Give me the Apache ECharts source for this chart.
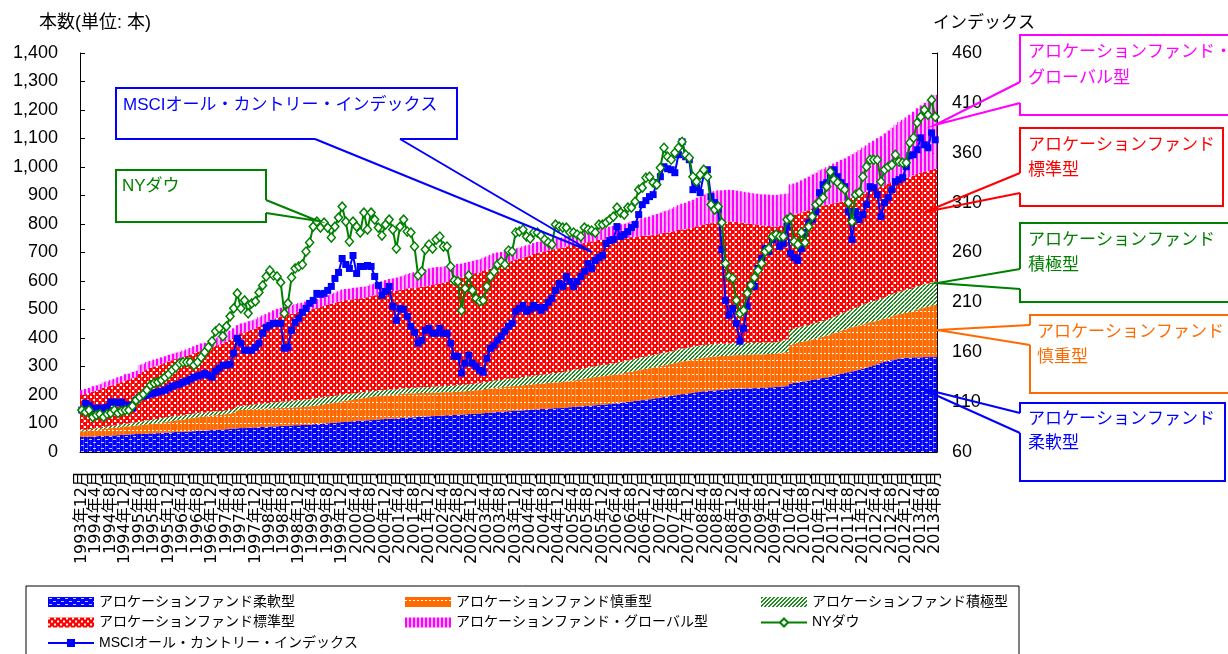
<!DOCTYPE html>
<html>
<head>
<meta charset="utf-8">
<script src="https://cdn.jsdelivr.net/npm/echarts@6.0.0/dist/echarts.min.js"></script>
<style>
  html, body { margin: 0; padding: 0; background: #fff; }
  #chart { width: 1228px; height: 654px; }
</style>
</head>
<body>
<div id="chart"></div>
<script>
const FONT = "'Liberation Sans', 'Noto Sans CJK JP', sans-serif";

// monthly, 1993年12月 .. 2013年8月
const firstYear = 1993;
const firstMonth = 12;
const labelEvery = 4;

// 本数 (left axis), one row per year
const flexFund = [53,
  53,54,54,55,56,56,57,58,58,59,60,61,
  61,62,63,63,64,65,65,66,66,67,68,68,
  69,70,70,71,72,72,73,74,75,75,76,77,
  78,78,79,80,81,82,83,84,84,85,86,86,
  87,88,88,89,90,90,91,92,92,93,94,94,
  95,95,96,97,98,99,100,101,102,103,104,105,
  106,107,108,109,110,110,111,112,113,114,115,116,
  117,117,118,119,120,121,121,122,123,124,124,125,
  126,127,127,128,129,129,130,131,131,132,133,134,
  135,135,136,137,138,139,140,141,142,143,144,145,
  145,146,147,148,149,150,151,151,152,153,154,154,
  155,156,157,158,159,160,161,162,163,164,165,166,
  167,168,170,171,173,174,176,177,179,180,182,183,
  185,187,189,191,193,195,197,199,201,203,204,206,
  208,210,212,213,214,215,216,217,218,219,220,221,
  222,222,223,223,224,224,225,225,226,227,227,228,
  229,230,231,240,242,244,246,248,250,253,255,258,
  260,262,265,268,271,274,277,280,283,286,289,292,
  296,300,304,308,312,316,319,322,325,328,330,331,
  331,332,332,332,333,333,333,333];

const cautiousFund = [19,
  20,21,22,22,23,25,25,26,27,27,28,29,
  29,30,30,31,31,32,33,34,35,36,37,39,
  40,41,42,43,44,46,47,48,49,49,50,51,
  51,52,52,53,54,56,63,64,64,65,65,65,
  65,64,64,64,64,64,64,63,63,63,63,63,
  63,64,64,65,65,66,67,68,69,70,71,73,
  74,75,76,77,78,80,80,81,82,82,83,83,
  84,84,84,85,85,85,85,84,84,84,83,83,
  83,82,82,82,81,81,81,81,81,81,81,81,
  82,82,83,84,85,86,86,86,86,87,87,87,
  87,88,88,88,89,89,89,89,90,90,90,90,
  91,92,93,94,95,95,96,97,98,99,99,100,
  100,101,101,102,102,103,104,105,106,107,108,109,
  109,110,110,111,111,111,112,113,114,115,115,116,
  116,117,117,118,118,119,119,119,119,118,118,118,
  118,118,118,118,118,118,118,117,117,117,117,117,
  118,119,120,136,138,139,140,141,141,142,143,144,
  145,146,147,149,150,152,153,154,155,155,156,156,
  156,155,154,153,152,152,153,154,155,156,156,157,
  160,164,168,172,174,176,180,183];

const activeFund = [5,
  5,5,6,6,6,7,7,8,8,9,9,10,
  10,11,11,12,13,14,14,15,15,16,16,16,
  16,16,15,15,15,15,15,15,14,14,14,14,
  14,14,13,13,13,13,13,14,14,15,15,16,
  17,18,19,19,20,21,22,22,23,24,24,25,
  25,25,25,26,26,26,26,25,25,24,24,23,
  23,22,22,21,21,20,20,20,19,19,19,19,
  19,19,18,18,18,18,18,19,19,19,20,20,
  20,21,21,21,22,22,22,23,23,23,24,24,
  24,24,25,25,25,26,26,26,27,27,27,28,
  28,29,29,29,30,31,31,32,32,33,33,34,
  34,35,35,36,36,37,37,37,38,38,39,39,
  39,40,40,40,41,41,41,42,42,42,43,43,
  43,43,43,44,44,44,44,44,45,45,45,45,
  45,45,45,45,44,44,44,44,43,43,43,42,
  42,42,42,42,41,41,41,41,41,40,40,40,
  41,42,44,52,53,54,54,54,54,55,55,55,
  55,56,57,58,59,60,60,62,63,65,67,69,
  70,71,72,73,74,75,76,77,78,79,80,81,
  81,81,82,82,82,82,82,82];

const standardFund = [123,
  125,127,130,132,134,137,139,141,143,146,148,151,
  153,156,158,170,174,179,183,185,187,189,192,195,
  197,199,202,204,206,209,212,214,217,219,222,225,
  229,233,237,241,245,249,252,255,258,261,263,266,
  271,276,281,286,291,296,298,301,303,305,308,310,
  311,313,314,315,316,318,320,322,324,326,328,330,
  330,330,330,330,330,330,332,334,336,338,340,343,
  344,345,346,347,348,350,351,352,352,353,354,355,
  357,359,361,363,365,368,371,374,377,380,382,385,
  387,389,391,393,396,398,401,404,407,410,413,416,
  418,420,422,425,427,429,430,432,433,434,436,437,
  437,438,438,439,439,440,440,440,440,441,441,441,
  440,438,437,435,434,432,431,430,428,427,425,424,
  423,422,422,421,421,420,420,419,419,418,418,418,
  419,420,421,422,424,425,426,427,427,428,428,427,
  425,423,421,419,418,416,414,412,411,409,408,406,
  405,403,402,401,400,400,401,402,403,404,405,407,
  405,403,401,398,396,393,392,391,391,390,390,390,
  390,391,391,392,392,393,393,393,393,393,393,393,
  393,393,394,394,394,394,395,395];

const globalFund = [18,
  18,18,19,19,19,20,20,20,21,21,21,22,
  22,22,23,30,28,26,25,24,24,24,23,23,
  23,23,23,23,23,23,24,25,26,26,27,28,
  29,30,31,32,33,34,34,34,34,33,33,33,
  33,33,32,32,32,31,31,31,30,30,30,30,
  30,31,31,31,32,32,33,34,35,36,37,39,
  39,39,40,40,40,40,40,41,41,41,42,42,
  43,44,46,47,49,51,53,54,56,58,60,61,
  61,60,58,57,55,53,52,51,49,48,47,46,
  46,46,47,47,48,48,47,45,43,42,40,39,
  39,39,39,38,38,38,38,37,37,37,36,36,
  36,36,36,35,35,35,36,36,37,38,38,39,
  41,43,45,47,49,51,53,55,57,60,62,64,
  66,69,71,73,76,78,81,84,87,90,92,95,
  97,100,102,105,107,110,110,111,111,111,111,111,
  110,110,109,109,108,108,108,109,109,110,110,111,
  111,111,110,110,109,109,112,115,118,120,122,125,
  128,132,135,139,142,146,148,151,153,156,158,161,
  164,168,171,175,178,182,187,192,197,202,207,212,
  218,224,230,236,242,248,254,260];

// インデックス (right axis)
const msci = [102,
  109,107,104,103,104,103,105,110,110,109,110,107,
  107,104,112,115,116,117,118,119,120,121,122,124,
  126,127,128,130,131,133,135,136,137,139,137,135,
  141,144,147,147,148,159,174,169,162,162,162,165,
  169,179,185,187,189,189,189,164,165,182,190,194,
  200,204,209,212,219,218,219,222,226,234,240,254,
  248,244,257,239,246,246,247,246,236,227,217,221,
  226,206,192,204,203,196,186,180,169,172,182,184,
  179,179,184,179,179,169,156,156,139,149,157,149,
  146,142,140,154,164,167,172,176,181,186,189,201,
  204,207,201,203,207,205,202,205,210,214,222,229,
  226,236,231,226,231,236,241,249,244,252,255,257,
  269,272,273,286,276,278,281,285,288,298,308,312,
  316,318,330,336,346,344,343,340,358,371,356,353,
  323,325,320,338,343,316,310,303,263,212,197,204,
  189,171,184,206,227,226,244,254,264,261,273,278,
  266,269,286,259,255,252,264,280,290,293,301,320,
  328,330,336,343,336,330,326,301,273,301,293,298,
  308,326,325,318,296,310,315,323,331,333,335,346,
  357,358,363,375,368,365,380,373];

const nyDow = [102,
  100,102,95,97,98,95,98,99,102,99,101,102,
  102,106,112,115,118,122,127,129,130,132,135,138,
  142,145,149,150,150,150,147,150,155,160,165,171,
  181,184,176,186,196,204,219,204,212,199,209,211,
  220,227,236,242,237,236,230,199,209,235,244,246,
  248,261,270,286,291,285,290,285,275,286,295,306,
  291,271,291,286,280,300,283,300,293,285,277,288,
  293,283,264,286,293,281,280,266,237,241,263,268,
  264,273,276,266,266,246,232,231,202,224,237,222,
  214,211,212,226,236,241,248,251,248,262,261,280,
  281,283,276,274,280,280,277,273,270,268,288,286,
  285,285,280,280,278,276,285,283,282,280,288,288,
  290,293,296,305,300,298,305,305,311,323,325,335,
  336,330,328,345,365,356,353,360,365,371,358,355,
  336,331,338,343,336,308,303,306,290,249,236,234,
  212,199,202,219,227,235,242,249,261,264,276,278,
  276,276,293,295,271,268,280,270,286,296,308,311,
  315,326,341,333,330,326,323,310,291,318,320,336,
  346,353,353,353,331,343,346,348,358,351,350,350,
  370,375,390,396,403,398,413,396];

const categories = flexFund.map((_, k) => {
  const t = firstYear * 12 + (firstMonth - 1) + k;
  return Math.floor(t / 12) + '年' + (t % 12 + 1) + '月';
});

const names = {
  flex: 'アロケーションファンド柔軟型',
  cautious: 'アロケーションファンド慎重型',
  active: 'アロケーションファンド積極型',
  standard: 'アロケーションファンド標準型',
  global: 'アロケーションファンド・グローバル型',
  msci: 'MSCIオール・カントリー・インデックス',
  dow: 'NYダウ'
};

function makePattern(w, h, bg, fg, cells) {
  const c = document.createElement('canvas');
  c.width = w;
  c.height = h;
  const ctx = c.getContext('2d');
  ctx.fillStyle = bg;
  ctx.fillRect(0, 0, w, h);
  ctx.fillStyle = fg;
  cells.forEach(([x, y, cw, ch]) => ctx.fillRect(x, y, cw, ch));
  return { image: c, repeat: 'repeat' };
}

const bluePat = makePattern(8, 6, '#0000ff', '#c8c8ff', [[1, 1, 3, 1], [5, 4, 3, 1]]);
const orangePat = makePattern(4, 7, '#ff6a00', '#ffffff', [[0, 3, 2, 1]]);
const greenPat = makePattern(4, 4, '#ffffff', '#1d8a1d',
  [[0, 0, 1, 1], [1, 3, 1, 1], [2, 2, 1, 1], [3, 1, 1, 1],
   [1, 0, 1, 1], [2, 3, 1, 1], [3, 2, 1, 1], [0, 1, 1, 1]]);
const redPat = makePattern(6, 6, '#ff0000', '#ffffff', [[0, 0, 2, 2], [3, 3, 2, 2]]);
const pinkPat = makePattern(4, 1, '#ffb0ff', '#ff00ff', [[0, 0, 2, 1]]);

function barSeries(name, data, color) {
  return {
    name, type: 'bar', stack: 'funds', data,
    barCategoryGap: '0%', barGap: '0%',
    itemStyle: { color },
    emphasis: { disabled: true },
    z: 2
  };
}

function callout(box, base, tip, color, lines, textX) {
  const [x, y, w, h] = box;
  const els = [
    { type: 'rect', z: 100, shape: { x, y, width: w, height: h },
      style: { fill: '#fff', stroke: color, lineWidth: 2 } },
    { type: 'line', z: 101, shape: { x1: base[0][0], y1: base[0][1], x2: base[1][0], y2: base[1][1] },
      style: { stroke: '#fff', lineWidth: 3 } },
    { type: 'polyline', z: 102, shape: { points: [base[0], tip, base[1]] },
      style: { stroke: color, lineWidth: 2, fill: null } }
  ];
  lines.forEach(([txt, ty]) => els.push({
    type: 'text', z: 103,
    style: { text: txt, x: textX, y: ty, fill: color, fontSize: 17, fontFamily: FONT, verticalAlign: 'middle' }
  }));
  return els;
}

const legendBase = {
  orient: 'vertical', top: 595, height: 60, padding: 0,
  itemGap: 6.5, itemWidth: 46, itemHeight: 10,
  selectedMode: false,
  textStyle: { fontSize: 14, lineHeight: 14, color: '#000', fontFamily: FONT }
};

const chart = echarts.init(document.getElementById('chart'));
chart.setOption({
  animation: false,
  backgroundColor: '#fff',
  textStyle: { fontFamily: FONT },
  grid: { left: 80, right: 291, top: 53, bottom: 202 },
  legend: [
    Object.assign({}, legendBase, { left: 47,
      data: [{ name: names.flex, icon: 'rect' }, { name: names.standard, icon: 'rect' }, names.msci] }),
    Object.assign({}, legendBase, { left: 405,
      data: [{ name: names.cautious, icon: 'rect' }, { name: names.global, icon: 'rect' }] }),
    Object.assign({}, legendBase, { left: 760,
      data: [{ name: names.active, icon: 'rect' }, names.dow] })
  ],
  xAxis: {
    type: 'category',
    data: categories,
    axisLine: { lineStyle: { color: '#000' } },
    axisTick: { inside: true, length: 3, interval: 0, lineStyle: { color: '#000' } },
    axisLabel: { interval: 0, rotate: 90, fontSize: 16, margin: 19, color: '#000',
      fontFamily: "'DejaVu Sans', 'Noto Sans CJK JP', sans-serif",
      formatter: (value, index) => (index % labelEvery === 0 ? value : '') },
    splitLine: { show: false }
  },
  yAxis: [
    {
      type: 'value', position: 'left', min: 0, max: 1400, interval: 100,
      axisLine: { show: true, lineStyle: { color: '#000' } },
      axisTick: { show: true, inside: true, length: 5, lineStyle: { color: '#000' } },
      axisLabel: { fontSize: 18, margin: 22, color: '#000', fontFamily: FONT,
        formatter: v => v.toLocaleString('en-US') },
      splitLine: { show: false }
    },
    {
      type: 'value', position: 'right', min: 60, max: 460, interval: 50,
      axisLine: { show: true, lineStyle: { color: '#000' } },
      axisTick: { show: true, inside: true, length: 5, lineStyle: { color: '#000' } },
      axisLabel: { fontSize: 18, margin: 15, color: '#000', fontFamily: FONT },
      splitLine: { show: false }
    }
  ],
  series: [
    barSeries(names.flex, flexFund, bluePat),
    barSeries(names.cautious, cautiousFund, orangePat),
    barSeries(names.active, activeFund, greenPat),
    barSeries(names.standard, standardFund, redPat),
    barSeries(names.global, globalFund, pinkPat),
    {
      name: names.msci, type: 'line', yAxisIndex: 1, data: msci,
      symbol: 'rect', symbolSize: 7, showAllSymbol: true,
      lineStyle: { color: '#0000ff', width: 2 },
      itemStyle: { color: '#0000ff' },
      emphasis: { disabled: true }, z: 5
    },
    {
      name: names.dow, type: 'line', yAxisIndex: 1, data: nyDow,
      symbol: 'diamond', symbolSize: [8, 9], showAllSymbol: true,
      lineStyle: { color: '#008000', width: 2 },
      itemStyle: { color: '#ffffff', borderColor: '#008000', borderWidth: 1.5 },
      emphasis: { disabled: true }, z: 6
    }
  ],
  graphic: [
    { type: 'text', z: 100, style: { text: '本数(単位: 本)', x: 39, y: 23, fontSize: 18, fill: '#000',
      fontFamily: FONT, verticalAlign: 'middle' } },
    { type: 'text', z: 100, style: { text: 'インデックス', x: 933, y: 23, fontSize: 17, fill: '#000',
      fontFamily: FONT, verticalAlign: 'middle' } },
    { type: 'rect', z: 90, shape: { x: 26, y: 586, width: 993, height: 80 },
      style: { fill: null, stroke: '#000', lineWidth: 1 } },
    ...callout([116, 88, 341, 51], [[315, 139], [400, 139]], [592, 252], '#0000ff',
      [[names.msci, 105]], 123),
    ...callout([116, 170, 150, 52], [[266, 200], [266, 213]], [318, 221], '#008000',
      [['NYダウ', 186]], 122),
    ...callout([1020, 35, 230, 80], [[1020, 82], [1020, 103]], [935, 125], '#ff00ff',
      [['アロケーションファンド・', 52], ['グローバル型', 78]], 1028),
    ...callout([1020, 128, 203, 78], [[1020, 173], [1020, 193]], [925, 212], '#ff0000',
      [['アロケーションファンド', 145], ['標準型', 170]], 1028),
    ...callout([1020, 223, 230, 79], [[1020, 269], [1020, 289]], [937, 283], '#008000',
      [['アロケーションファンド', 240], ['積極型', 265]], 1028),
    ...callout([1030, 315, 220, 78], [[1030, 325], [1030, 345]], [937, 330], '#ff6a00',
      [['アロケーションファンド', 332], ['慎重型', 357]], 1037),
    ...callout([1020, 403, 205, 78], [[1020, 413], [1020, 433]], [920, 388], '#0000ff',
      [['アロケーションファンド', 419], ['柔軟型', 443]], 1028)
  ]
});
</script>
</body>
</html>
